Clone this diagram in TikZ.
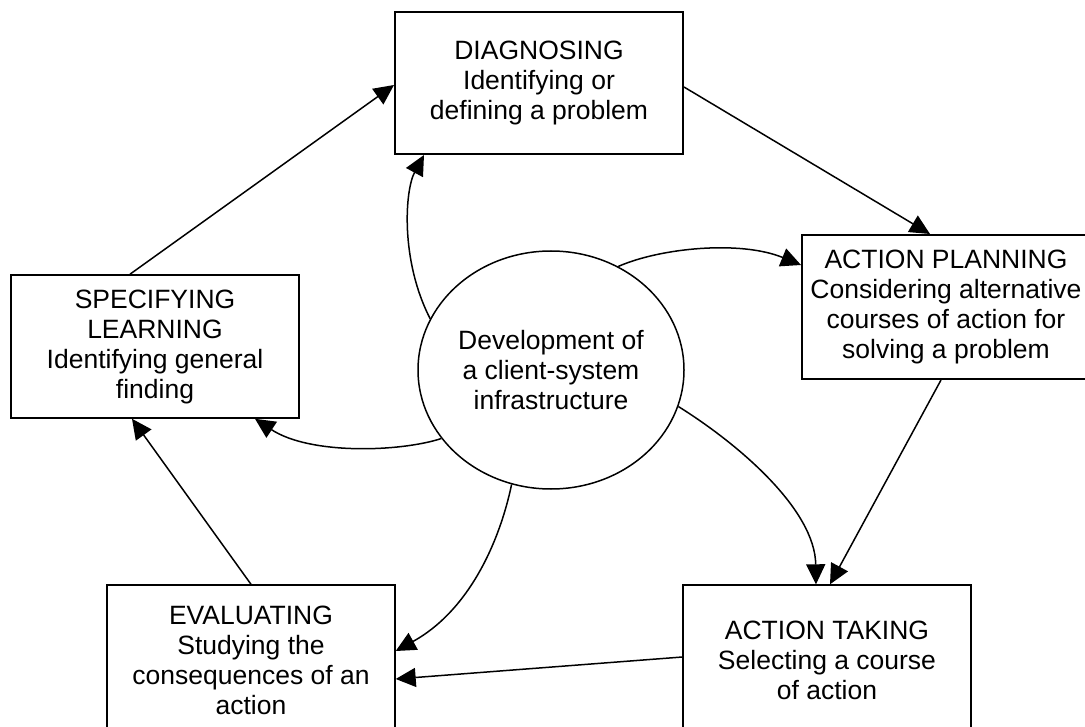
\documentclass[tikz,border=0pt]{standalone}
\usepackage{fontspec}
\setmainfont{Liberation Sans}
\usetikzlibrary{arrows.meta,shapes.geometric}
\begin{document}
\begin{tikzpicture}[x=1pt,y=-1pt,
  txt/.style={align=center, font=\fontsize{26.5}{30}\selectfont},
  box/.style={txt, draw, rectangle, minimum width=288pt, inner sep=0pt},
  conn/.style={line width=1.5pt, -{Triangle[length=20pt,width=19pt]}}
]
\useasboundingbox (0,0) rectangle (1085,727);

% stages of the cycle
\node[box, line width=2pt, minimum height=142pt] (diag) at (539,83)
  {DIAGNOSING\\Identifying or\\defining a problem};
\node[box, line width=2pt, minimum height=144pt] (plan) at (946,307)
  {ACTION PLANNING\\Considering alternative\\courses of action for\\solving a problem};
\node[box, line width=1.4pt, minimum height=150pt] (take) at (827,660)
  {ACTION TAKING\\Selecting a course\\of action};
\node[box, line width=1.4pt, minimum height=150pt] (eval) at (251,660)
  {EVALUATING\\Studying the\\consequences of an\\action};
\node[box, line width=1.6pt, minimum height=143pt] (spec) at (155,346.5)
  {SPECIFYING\\LEARNING\\Identifying general\\finding};

% central infrastructure
\node[txt, draw, ellipse, line width=1.5pt, inner sep=0pt,
      minimum width=266pt, minimum height=238pt] (ell) at (551,370)
  {Development of\\a client-system\\infrastructure};

% cycle connectors
\draw[conn] ([xshift=-25pt]spec.north) -- ([yshift=-2pt]diag.west);
\draw[conn] ([yshift=-4pt]diag.east) -- ([xshift=-16pt]plan.north);
\draw[conn] ([xshift=-5pt]plan.south) -- ([xshift=3pt]take.north);
\draw[conn] ([yshift=3pt]take.west) -- ([yshift=-19pt]eval.east);
\draw[conn] (eval.north) -- ([xshift=-23pt]spec.south);

% connectors from the centre
\draw[conn] (ell.157.5) .. controls (400,260) and (405,190) .. ([xshift=-115pt]diag.south);
\draw[conn] (ell.57.6) .. controls (660,248) and (740,240) .. ([yshift=42pt]plan.west);
\draw[conn] (ell.212.2) .. controls (400,452) and (310,455) .. ([xshift=100pt]spec.south);
\draw[conn] (ell.251.4) .. controls (500,540) and (470,610) .. ([yshift=9pt]eval.east);
\draw[conn] (ell.344.9) .. controls (740,445) and (815,510) .. ([xshift=-11pt]take.north);
\end{tikzpicture}
\end{document}
